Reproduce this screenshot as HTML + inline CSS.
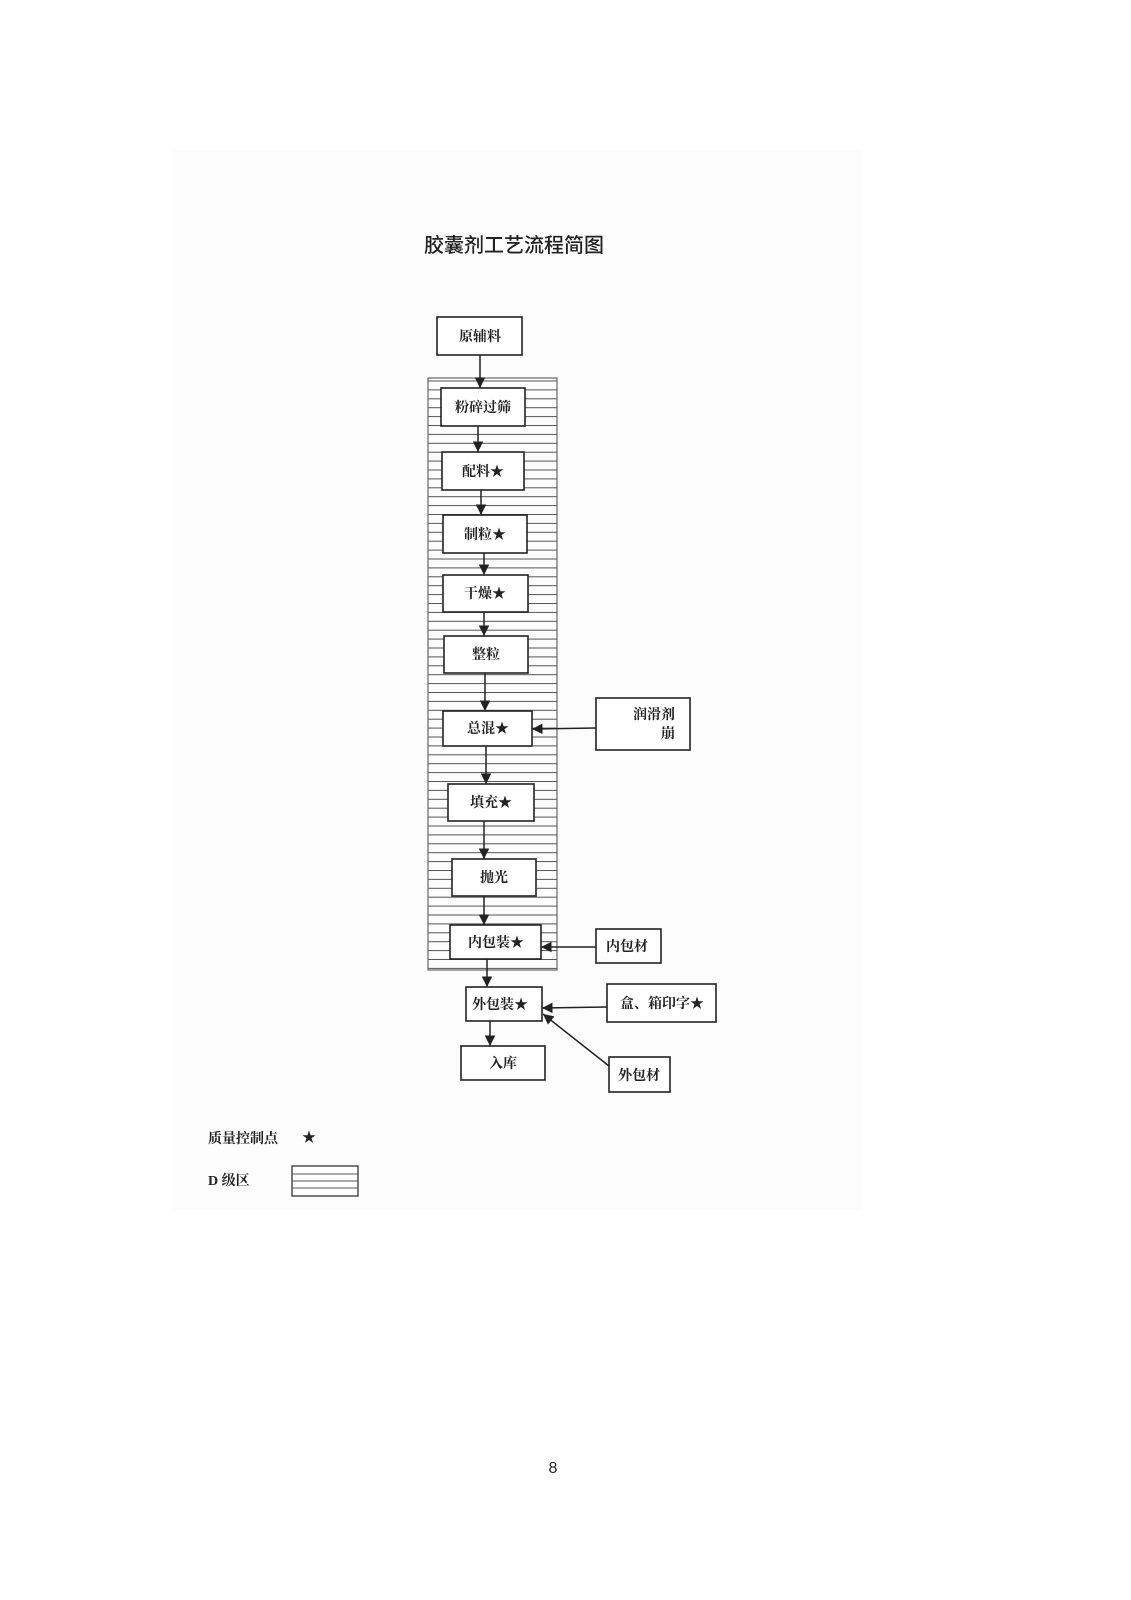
<!DOCTYPE html>
<html><head><meta charset="utf-8"><style>
html,body{margin:0;padding:0;background:#fff}
svg{display:block}
text{font-family:"Liberation Serif","Noto Serif CJK SC",serif;fill:#222}
</style></head><body>
<svg width="1131" height="1600" viewBox="0 0 1131 1600" xmlns="http://www.w3.org/2000/svg">
<defs>
<pattern id="h" x="0" y="380" width="10" height="8.9" patternUnits="userSpaceOnUse">
<line x1="0" y1="1" x2="10" y2="1" stroke="#555" stroke-width="1"/>
</pattern>
<marker id="a" viewBox="0 0 10 10" refX="10" refY="5" markerWidth="7" markerHeight="7" orient="auto"><path d="M0,0 L10,5 L0,10 z" fill="#222"/></marker>
</defs>
<rect x="0" y="0" width="1131" height="1600" fill="#fff"/>
<rect x="172" y="150" width="690" height="1060" fill="#fcfcfc"/>
<text x="514" y="252" font-size="20" text-anchor="middle" style="font-family:'Noto Sans CJK SC',sans-serif;font-weight:500">胶囊剂工艺流程简图</text>
<rect x="428" y="378" width="129" height="592" fill="url(#h)" stroke="#666" stroke-width="1.2"/>
<g stroke="#222" stroke-width="1.6" fill="#fff">
<rect x="437" y="317" width="85" height="38"/>
<rect x="441" y="388" width="84" height="38"/>
<rect x="442" y="452" width="82" height="38"/>
<rect x="443" y="515" width="84" height="38"/>
<rect x="443" y="575" width="85" height="37"/>
<rect x="444" y="636" width="84" height="37"/>
<rect x="443" y="711" width="89" height="35"/>
<rect x="596" y="698" width="94" height="52"/>
<rect x="448" y="784" width="86" height="37"/>
<rect x="452" y="859" width="84" height="37"/>
<rect x="450" y="925" width="91" height="34"/>
<rect x="596" y="929" width="65" height="34"/>
<rect x="466" y="987" width="76" height="34"/>
<rect x="607" y="984" width="109" height="38"/>
<rect x="461" y="1046" width="84" height="34"/>
<rect x="609" y="1057" width="61" height="35"/>
</g>
<g stroke="#222" stroke-width="1.5" marker-end="url(#a)">
<line x1="480" y1="355" x2="480" y2="388"/>
<line x1="478" y1="426" x2="478" y2="452"/>
<line x1="481" y1="490" x2="481" y2="515"/>
<line x1="484" y1="553" x2="484" y2="575"/>
<line x1="484" y1="612" x2="484" y2="636"/>
<line x1="485" y1="673" x2="485" y2="711"/>
<line x1="596" y1="728" x2="532" y2="729"/>
<line x1="486" y1="746" x2="486" y2="784"/>
<line x1="484" y1="821" x2="484" y2="859"/>
<line x1="484" y1="896" x2="484" y2="925"/>
<line x1="596" y1="947" x2="541" y2="947"/>
<line x1="487" y1="959" x2="487" y2="987"/>
<line x1="607" y1="1007" x2="542" y2="1008"/>
<line x1="609" y1="1066" x2="543" y2="1014"/>
<line x1="490" y1="1021" x2="490" y2="1046"/>
</g>
<g font-size="14" text-anchor="middle" font-weight="bold">
<text x="480" y="341">原辅料</text>
<text x="483" y="412">粉碎过筛</text>
<text x="483" y="476">配料★</text>
<text x="485" y="539">制粒★</text>
<text x="485" y="598">干燥★</text>
<text x="486" y="659">整粒</text>
<text x="488" y="733">总混★</text>
<text x="654" y="719">润滑剂</text>
<text x="668" y="738">崩</text>
<text x="491" y="807">填充★</text>
<text x="494" y="882">抛光</text>
<text x="496" y="947">内包装★</text>
<text x="627" y="951">内包材</text>
<text x="500" y="1009">外包装★</text>
<text x="662" y="1008">盒、箱印字★</text>
<text x="503" y="1068">入库</text>
<text x="639" y="1080">外包材</text>
</g>
<text x="208" y="1143" font-size="14" font-weight="bold">质量控制点</text>
<text x="302" y="1142" font-size="14">★</text>
<text x="208" y="1185" font-size="14" font-weight="bold">D 级区</text>
<rect x="292" y="1166" width="66" height="30" fill="#fff" stroke="#333" stroke-width="1.3"/>
<g stroke="#555" stroke-width="1"><line x1="292" y1="1174" x2="358" y2="1174"/><line x1="292" y1="1181" x2="358" y2="1181"/><line x1="292" y1="1188" x2="358" y2="1188"/></g>
<text x="553" y="1473" font-size="16" text-anchor="middle" style="font-family:'Liberation Sans',sans-serif">8</text>
</svg>
</body></html>
